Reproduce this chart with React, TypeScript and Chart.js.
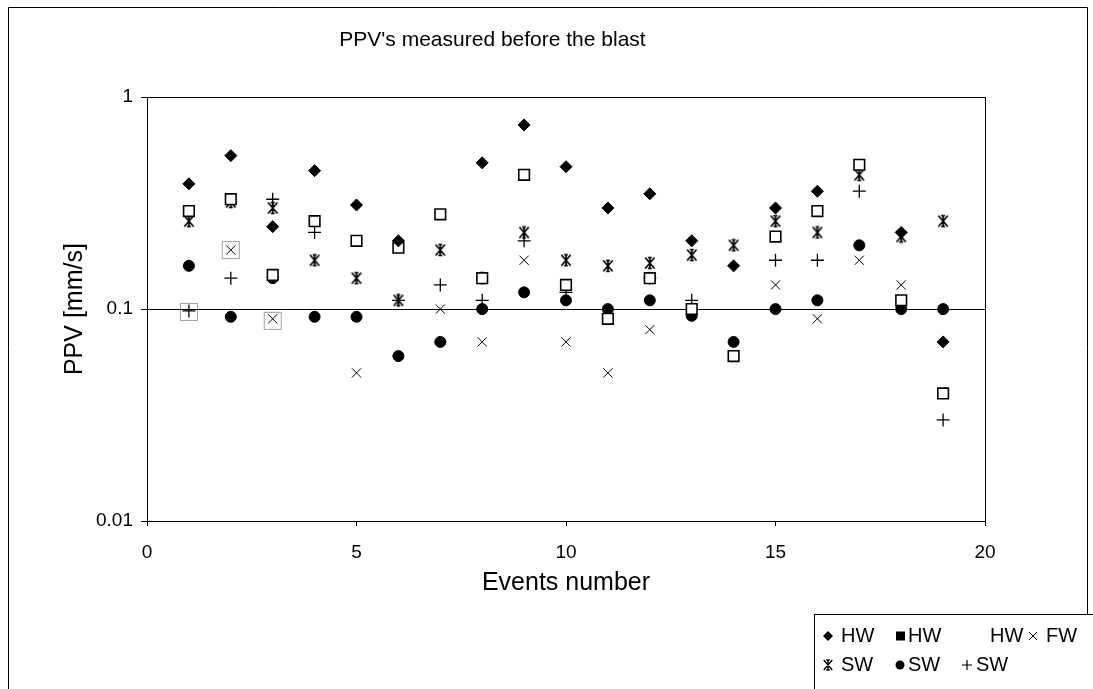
import React, { useEffect, useRef } from 'react';
import { Chart, registerables } from 'chart.js';

Chart.register(...registerables);

const eventNumbers = [1, 2, 3, 4, 5, 6, 7, 8, 9, 10, 11, 12, 13, 14, 15, 16, 17, 18, 19];
const hwDiamond = [0.39, 0.53, 0.245, 0.45, 0.31, 0.21, null, 0.49, 0.74, 0.47, 0.3, 0.35, 0.21, 0.16, 0.3, 0.36, null, 0.23, 0.07];
const hwSquare = [0.29, 0.33, 0.145, 0.26, 0.21, 0.195, 0.28, 0.14, 0.43, 0.13, 0.09, 0.14, 0.1, 0.06, 0.22, 0.29, 0.48, 0.11, 0.04];
const hwBig = [0.097, 0.19, 0.088, null, null, null, null, null, null, null, null, null, null, null, null, null, null, null, null];
const fwCross = [null, 0.19, 0.09, null, 0.05, null, 0.1, 0.07, 0.17, 0.07, 0.05, 0.08, null, null, 0.13, 0.09, 0.17, 0.13, null];
const swStar = [0.26, 0.32, 0.3, 0.17, 0.14, 0.11, 0.19, 0.14, 0.23, 0.17, 0.16, 0.165, 0.18, 0.2, 0.26, 0.23, 0.43, 0.22, 0.26];
const swCircle = [0.16, 0.092, 0.14, 0.092, 0.092, 0.06, 0.07, 0.1, 0.12, 0.11, 0.1, 0.11, 0.093, 0.07, 0.1, 0.11, 0.2, 0.1, 0.1];
const swPlus = [0.098, 0.14, 0.33, 0.23, null, 0.11, 0.13, 0.11, 0.21, 0.12, null, 0.14, 0.11, null, 0.17, 0.17, 0.36, null, 0.03];

const xTickValues = [0, 5, 10, 15, 20];
const yTickValues = [0.01, 0.1, 1];
const seriesNames = ['HW', 'HW', 'HW', 'FW', 'SW', 'SW', 'SW'];
const chartTitle = "PPV's measured before the blast";
const xTitle = 'Events number';
const yTitle = 'PPV [mm/s]';

const FONT = "'Liberation Sans', Arial, sans-serif";

function toPoints(vals: (number | null)[]) {
  return eventNumbers
    .map((x, i) => ({ x, y: vals[i] }))
    .filter((p) => p.y !== null);
}

function makeMarker(w: number, h: number, draw: (ctx: CanvasRenderingContext2D, w: number, h: number) => void) {
  const c = document.createElement('canvas');
  c.width = w;
  c.height = h;
  const ctx = c.getContext('2d') as CanvasRenderingContext2D;
  draw(ctx, w, h);
  return c;
}

function drawAsterisk(ctx: CanvasRenderingContext2D, cx: number, cy: number, r: number) {
  ctx.beginPath();
  ctx.moveTo(cx - r * 0.85, cy - r);
  ctx.lineTo(cx + r * 0.85, cy + r);
  ctx.moveTo(cx + r * 0.85, cy - r);
  ctx.lineTo(cx - r * 0.85, cy + r);
  ctx.moveTo(cx, cy - r);
  ctx.lineTo(cx, cy + r);
  ctx.moveTo(cx - r * 0.35, cy - r);
  ctx.lineTo(cx + r * 0.35, cy - r);
  ctx.moveTo(cx - r * 0.35, cy + r);
  ctx.lineTo(cx + r * 0.35, cy + r);
  ctx.stroke();
}

export default function App() {
  const ref = useRef<HTMLCanvasElement | null>(null);

  useEffect(() => {
    document.body.style.margin = '0';
    const canvas = ref.current;
    if (!canvas) return;

    const starMarker = makeMarker(14, 14, (ctx) => {
      ctx.strokeStyle = '#000';
      ctx.lineWidth = 1.7;
      drawAsterisk(ctx, 7, 7, 5.5);
    });
    const bigMarker = makeMarker(20, 20, (ctx) => {
      ctx.strokeStyle = '#444';
      ctx.lineWidth = 1;
      ctx.setLineDash([1, 1]);
      ctx.strokeRect(1.5, 1.5, 17, 17);
    });

    const framePlugin = {
      id: 'frame',
      beforeDraw(chart: any) {
        const { ctx, width, height } = chart;
        ctx.save();
        ctx.fillStyle = '#fff';
        ctx.fillRect(0, 0, width, height);
        ctx.restore();
      },
      afterDraw(chart: any) {
        const { ctx, chartArea: a } = chart;
        ctx.save();
        ctx.strokeStyle = '#000';
        ctx.lineWidth = 1;
        const l = Math.round(a.left) + 0.5;
        const t = Math.round(a.top) + 0.5;
        const r = Math.round(a.right) + 0.5;
        const b = Math.round(a.bottom) + 0.5;
        ctx.strokeRect(l, t, r - l, b - t);
        // outer frame
        ctx.beginPath();
        ctx.moveTo(8.5, 689);
        ctx.lineTo(8.5, 7.5);
        ctx.lineTo(1087.5, 7.5);
        ctx.lineTo(1087.5, 689);
        ctx.stroke();
        // legend box
        const lx = 814.5;
        const ly = 614.5;
        ctx.fillStyle = '#fff';
        ctx.fillRect(lx, ly, 300, 120);
        ctx.strokeRect(lx, ly, 300, 120);
        ctx.fillStyle = '#000';
        ctx.font = `20px ${FONT}`;
        ctx.textBaseline = 'middle';
        ctx.textAlign = 'left';
        const y1 = 636;
        const y2 = 665;
        // row 1
        ctx.beginPath();
        ctx.moveTo(828, y1 - 5);
        ctx.lineTo(833, y1);
        ctx.lineTo(828, y1 + 5);
        ctx.lineTo(823, y1);
        ctx.closePath();
        ctx.fill();
        ctx.fillText(seriesNames[0], 841, y1);
        ctx.fillRect(896, y1 - 4.5, 9, 9);
        ctx.fillText(seriesNames[1], 908, y1);
        ctx.fillText(seriesNames[2], 990, y1);
        ctx.lineWidth = 1;
        ctx.beginPath();
        ctx.moveTo(1029, y1 - 4);
        ctx.lineTo(1037, y1 + 4);
        ctx.moveTo(1037, y1 - 4);
        ctx.lineTo(1029, y1 + 4);
        ctx.stroke();
        ctx.fillText(seriesNames[3], 1046, y1);
        // row 2
        ctx.lineWidth = 1.4;
        drawAsterisk(ctx, 828, y2, 5);
        ctx.fillText(seriesNames[4], 841, y2);
        ctx.beginPath();
        ctx.arc(900, y2, 4.5, 0, Math.PI * 2);
        ctx.fill();
        ctx.fillText(seriesNames[5], 908, y2);
        ctx.lineWidth = 1.2;
        ctx.beginPath();
        ctx.moveTo(962, y2);
        ctx.lineTo(972, y2);
        ctx.moveTo(967, y2 - 5);
        ctx.lineTo(967, y2 + 5);
        ctx.stroke();
        ctx.fillText(seriesNames[6], 976, y2);
        ctx.restore();
      },
    };

    const chart = new Chart(canvas, {
      type: 'scatter',
      data: {
        datasets: [
          {
            label: seriesNames[0],
            data: toPoints(hwDiamond),
            pointStyle: 'rectRot',
            pointRadius: 6,
            backgroundColor: '#000',
            borderColor: '#000',
            borderWidth: 1,
          },
          {
            label: seriesNames[1],
            data: toPoints(hwSquare),
            pointStyle: 'rect',
            pointRadius: 7.5,
            backgroundColor: '#fff',
            borderColor: '#000',
            borderWidth: 1.6,
          },
          {
            label: seriesNames[2],
            data: toPoints(hwBig),
            pointStyle: bigMarker,
            pointRadius: 9,
          },
          {
            label: seriesNames[3],
            data: toPoints(fwCross),
            pointStyle: 'crossRot',
            pointRadius: 6.5,
            backgroundColor: '#000',
            borderColor: '#000',
            borderWidth: 1,
          },
          {
            label: seriesNames[4],
            data: toPoints(swStar),
            pointStyle: starMarker,
            pointRadius: 6,
          },
          {
            label: seriesNames[5],
            data: toPoints(swCircle),
            pointStyle: 'circle',
            pointRadius: 5.5,
            backgroundColor: '#000',
            borderColor: '#000',
            borderWidth: 1,
          },
          {
            label: seriesNames[6],
            data: toPoints(swPlus),
            pointStyle: 'cross',
            pointRadius: 6.5,
            backgroundColor: '#000',
            borderColor: '#000',
            borderWidth: 1.3,
          },
        ],
      },
      options: {
        responsive: false,
        animation: false,
        devicePixelRatio: 1,
        layout: { padding: { left: 0, right: 108, top: 0, bottom: 0 } },
        plugins: {
          legend: { display: false },
          tooltip: { enabled: false },
          title: {
            display: true,
            text: chartTitle,
            color: '#000',
            font: { family: FONT, size: 21, weight: 'normal' },
            padding: { top: 28, bottom: 44 },
          },
        },
        scales: {
          x: {
            type: 'linear',
            min: 0,
            max: 20,
            afterFit: (s: any) => {
              s.height = 168;
            },
            afterBuildTicks: (s: any) => {
              s.ticks = xTickValues.map((v) => ({ value: v }));
            },
            ticks: {
              color: '#000',
              font: { family: FONT, size: 19 },
              padding: 15,
              maxRotation: 0,
            },
            grid: { display: true, drawOnChartArea: false, drawTicks: true, tickLength: 5, color: '#000' },
            border: { display: true, color: '#000', width: 1 },
            title: {
              display: true,
              text: xTitle,
              color: '#000',
              font: { family: FONT, size: 25, weight: 'normal' },
              padding: { top: 0, bottom: 91 },
            },
          },
          y: {
            type: 'logarithmic',
            min: 0.01,
            max: 1,
            afterFit: (s: any) => {
              s.width = 147;
            },
            afterBuildTicks: (s: any) => {
              s.ticks = yTickValues.map((v) => ({ value: v }));
            },
            ticks: {
              color: '#000',
              font: { family: FONT, size: 19 },
              padding: 8,
              callback: (v: any) => String(v),
            },
            grid: { display: true, drawTicks: true, tickLength: 6, color: '#000', lineWidth: 1 },
            border: { display: true, color: '#000', width: 1 },
            title: {
              display: true,
              text: yTitle,
              color: '#000',
              font: { family: FONT, size: 25, weight: 'normal' },
              padding: { top: 60, bottom: 0 },
            },
          },
        },
      },
      plugins: [framePlugin],
    } as any);

    return () => {
      chart.destroy();
    };
  }, []);

  return <canvas ref={ref} width={1093} height={689} style={{ display: 'block' }} />;
}
